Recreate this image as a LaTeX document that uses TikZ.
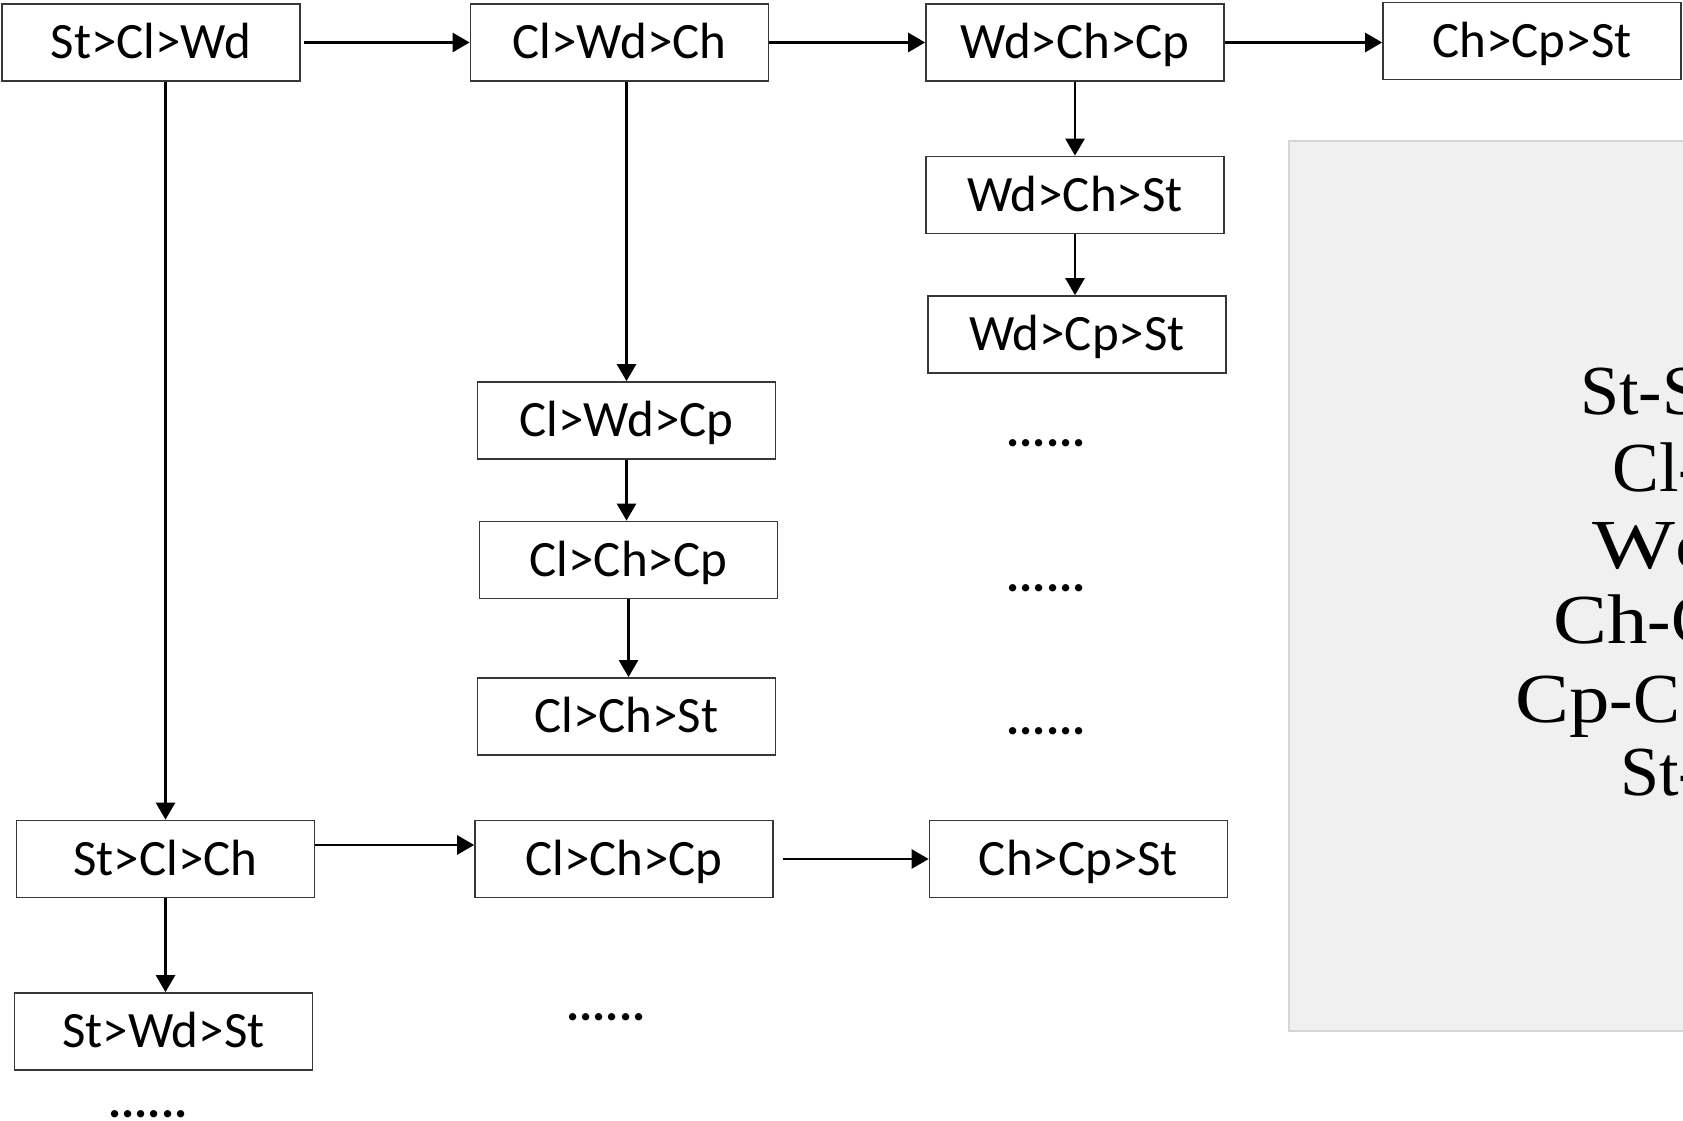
\documentclass[tikz,border=0pt]{standalone}
\usepackage{fontspec}
\setmainfont{Carlito}
\newfontfamily\panelfont{Liberation Serif}
\usetikzlibrary{arrows.meta}
\definecolor{panelfill}{RGB}{240,240,240}
\definecolor{paneledge}{RGB}{214,214,214}
\definecolor{boxedge}{RGB}{55,55,55}
\newcommand{\wider}[2][1.15]{\scalebox{#1}[1]{#2}}
\tikzset{
  seqbox/.style={draw=boxedge, line width=1pt, minimum width=5.96cm, minimum height=1.54cm,
    inner sep=0pt, font=\fontsize{29}{32}\selectfont, text height=18.5pt, text depth=0pt},
  more/.style={font=\bfseries\fontsize{28}{32}\selectfont, anchor=base, inner sep=0pt},
  paneltext/.style={font=\panelfont\fontsize{40}{44}\selectfont, anchor=base west, inner sep=0pt},
  link/.style={line width=1.5pt, -{Triangle[length=0.34cm,width=0.38cm]}}
}
\begin{document}
\begin{tikzpicture}[x=0.02cm, y=-0.02cm]
  \useasboundingbox (0,0) rectangle (1683,1121);
  \clip (0,0) rectangle (1683,1121);
  % grey panel on the right
  \filldraw[fill=panelfill, draw=paneledge, line width=1pt] (1289,141) rectangle (1700,1031);
  \node[paneltext] (p1) at (1580,415) {St-S};
  \node[paneltext] (p2) at (1612,492) {Cl-};
  \node[paneltext] (p3) at (1592,568) {\wider[1.25]{Wd}};
  \node[paneltext] (p4) at (1553,643) {\wider{Ch}-C};
  \node[paneltext] (p5) at (1515,722) {\wider{Cp}-C};
  \node[paneltext] (p6) at (1620,795) {St-};
  % sequences
  \draw
    (151,42.5) node[seqbox] (a1){St>Cl>Wd}
    (619.5,42.5) node[seqbox] (a2){Cl>Wd>Ch}
    (1075,42.5) node[seqbox] (a3){Wd>Ch>Cp}
    (1532,41) node[seqbox] (a4){Ch>Cp>St}
    (1075,195) node[seqbox] (b5){Wd>Ch>St}
    (1077,334.5) node[seqbox] (b6){Wd>Cp>St}
    (626.5,420.5) node[seqbox] (c7){Cl>Wd>Cp}
    (628.5,560) node[seqbox] (c8){Cl>Ch>Cp}
    (626.5,716.5) node[seqbox] (c9){Cl>Ch>St}
    (165.5,859) node[seqbox] (d10){St>Cl>Ch}
    (624,859) node[seqbox] (d11){Cl>Ch>Cp}
    (1078.5,859) node[seqbox] (d12){Ch>Cp>St}
    (163.5,1031.5) node[seqbox] (d13){St>Wd>St};
  % continuation dots
  \draw
    (1046,447) node[more] (m1){......}
    (1046,591) node[more] (m2){......}
    (1046,734) node[more] (m3){......}
    (606,1020) node[more] (m4){......}
    (148,1117) node[more] (m5){......};
  \begin{scope}[link]
    \draw[shorten <=2pt] (a1.east) to (a2.west);
    \draw (a2.east) to (a3.west);
    \draw (a3.east) to (a4.west |- a3.east);
    \draw (a3.south -| b5.north) to (b5.north);
    \draw (b5.south) to (b5.south |- b6.north);
    \draw (c7.north |- a2.south) to (c7.north);
    \draw (c7.south) to (c7.south |- c8.north);
    \draw (c8.south) to (c8.south |- c9.north);
    \draw (d10.north |- a1.south) to (d10.north);
    \draw ([yshift=0.28cm]d10.east) to ([yshift=0.28cm]d11.west);
    \draw[shorten <=5pt] (d11.east) to (d12.west);
    \draw (d10.south) to (d10.south |- d13.north);
  \end{scope}
\end{tikzpicture}
\end{document}
